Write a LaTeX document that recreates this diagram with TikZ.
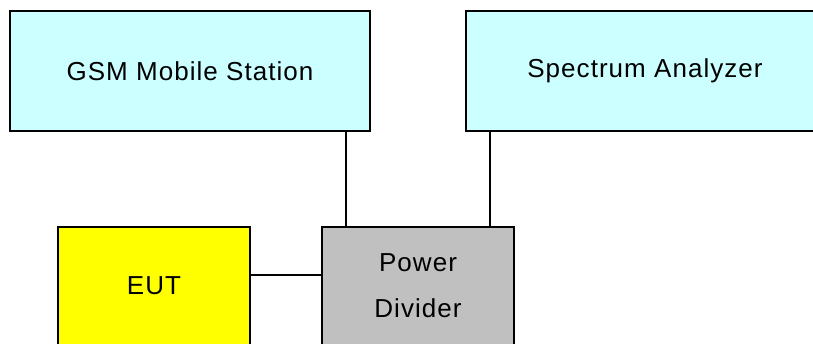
\documentclass[tikz,border=0pt]{standalone}
\usepackage{fontspec}
\setmainfont[LetterSpace=4]{Liberation Sans}
\definecolor{lcyan}{HTML}{CCFFFF}
\definecolor{lyellow}{HTML}{FFFF00}
\definecolor{lgray}{HTML}{C0C0C0}
\tikzset{
  boxstyle/.style={draw=black, line width=1.1pt, inner sep=0pt, align=center,
    font=\fontsize{26}{46}\selectfont},
  wire/.style={draw=black, line width=1.2pt}
}
\begin{document}
\begin{tikzpicture}[x=1pt,y=-1pt]
\useasboundingbox (0,0) rectangle (813,343);
\clip (0,0) rectangle (813,343);
\node[boxstyle, fill=lcyan, minimum width=360pt, minimum height=120pt] (gsm) at (190,71) {GSM Mobile Station};
\node[boxstyle, fill=lcyan, minimum width=358pt, minimum height=120pt] (sa) at (645,71) {Spectrum Analyzer};
\node[boxstyle, fill=lyellow, minimum width=192pt, minimum height=118pt] (eut) at (154,286) {EUT};
\node[boxstyle, fill=lgray, minimum width=192pt, minimum height=118pt] (pd) at (418,286) {Power\\Divider};
\coordinate (c1) at (346,0);
\coordinate (c2) at (490,0);
\coordinate (c3) at (0,275);
\draw[wire] (gsm.south -| c1) -- (pd.north -| c1);
\draw[wire] (sa.south -| c2) -- (pd.north -| c2);
\draw[wire] (eut.east |- c3) -- (pd.west |- c3);
\end{tikzpicture}
\end{document}
